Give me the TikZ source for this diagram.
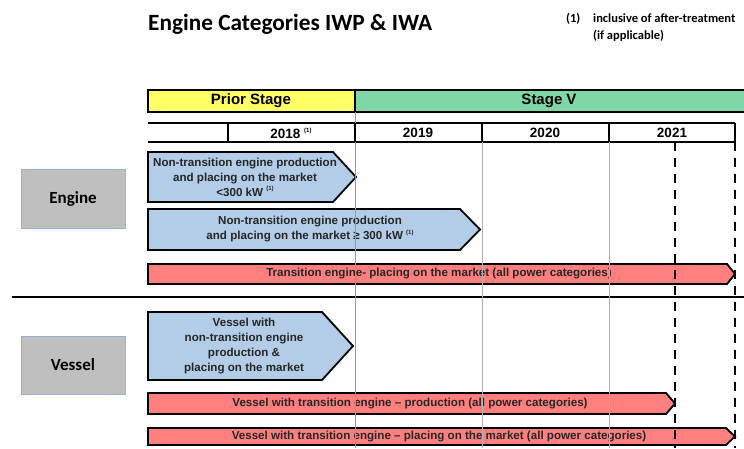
\documentclass[tikz,border=0pt]{standalone}
\usepackage{fontspec}
\setmainfont{Liberation Sans}
\newfontfamily\calfont{Carlito}
\definecolor{yel}{HTML}{FFFF66}
\definecolor{grn}{HTML}{7FD6A6}
\definecolor{blu}{HTML}{B3CDE8}
\definecolor{rd}{HTML}{FF7F7F}
\definecolor{boxgray}{HTML}{BFBFBF}
\definecolor{boxedge}{HTML}{95B3D7}
\newcommand{\sups}[1]{\raisebox{0.45em}{\fontsize{6}{6}\selectfont #1}}
\tikzset{
  blueshape/.style={fill=blu, draw=black, line width=1.8pt, line join=miter},
  redshape/.style={fill=rd, draw=black, line width=1.8pt, line join=miter},
  arrtext/.style={font=\bfseries\fontsize{11.6}{15}\selectfont, align=center, inner sep=0pt, text=black!85},
  yeartext/.style={font=\bfseries\fontsize{13.5}{14}\selectfont, inner sep=0pt},
  headtext/.style={font=\bfseries\fontsize{15}{15}\selectfont, inner sep=0pt},
  gridline/.style={draw=gray!60, line width=1pt},
  dashline/.style={draw=black, line width=2pt, dash pattern=on 9pt off 7pt},
  catbox/.style={fill=boxgray, draw=boxedge, line width=0.8pt},
  cattext/.style={font=\calfont\bfseries\fontsize{17}{18}\selectfont, inner sep=0pt},
  thickline/.style={draw=black, line width=1.8pt}
}
\begin{document}
\begin{tikzpicture}[x=1pt,y=-1pt]
\useasboundingbox (0,0) rectangle (744,448);
\clip (0,0) rectangle (744,448);
% title and footnote
\node[font=\calfont\bfseries\fontsize{23.3}{24}\selectfont, anchor=base west, inner sep=0pt] (title) at (148,30) {Engine Categories IWP \& IWA};
\node[font=\calfont\bfseries\fontsize{12.5}{17}\selectfont, anchor=base west, inner sep=0pt] (fn1) at (566,22) {(1)};
\node[font=\calfont\bfseries\fontsize{12.5}{17}\selectfont, anchor=base west, inner sep=0pt] (fn2) at (593,22) {inclusive of after-treatment};
\node[font=\calfont\bfseries\fontsize{12.5}{17}\selectfont, anchor=base west, inner sep=0pt] (fn3) at (593,39) {(if applicable)};
% header
\draw[fill=yel, thickline] (148,90) rectangle (355,112);
\draw[fill=grn, thickline] (355,90) rectangle (760,112);
\node[headtext] (prior) at (251,101) {Prior Stage};
\node[headtext] (stage) at (549,101) {Stage V};
% year row
\draw[thickline] (148,123) -- (735,123);
\draw[thickline] (148,142) -- (735,142);
\foreach \xx in {228,355,482,609,735} {\draw[thickline] (\xx,123) -- (\xx,142);}
\node[yeartext] (y18) at (291,133) {2018 \sups{(1)}};
\node[yeartext] (y19) at (418,133) {2019};
\node[yeartext] (y20) at (545,133) {2020};
\node[yeartext] (y21) at (672,133) {2021};
% category boxes
\draw[catbox] (21,169) rectangle (125,228);
\node[cattext] (engine) at (73,199) {Engine};
\draw[catbox] (21,336) rectangle (125,394);
\node[cattext] (vessel) at (73,365) {Vessel};
% separator
\draw[thickline] (12,297) -- (744,297);
% bars
\draw[blueshape] (148,152) -- (333,152) -- (356,177) -- (333,202) -- (148,202) -- cycle;
\node[arrtext] (a1) at (245,177) {Non-transition engine production\\and placing on the market\\{<}300 kW \sups{(1)}};
\draw[blueshape] (148,209) -- (460,209) -- (480,229.5) -- (460,250) -- (148,250) -- cycle;
\node[arrtext] (a2) at (310,229.5) {Non-transition engine production\\and placing on the market ≥ 300 kW \sups{(1)}};
\draw[redshape] (148,264) -- (727,264) -- (735,274) -- (727,284) -- (148,284) -- cycle;
\node[arrtext] (a3) at (439,274) {Transition engine- placing on the market (all power categories)};
\draw[blueshape] (148,312) -- (322,312) -- (353,346) -- (322,380) -- (148,380) -- cycle;
\node[arrtext] (a4) at (244,346) {Vessel with\\non-transition engine\\production \&\\placing on the market};
\draw[redshape] (148,393) -- (666,393) -- (675,403.5) -- (666,414) -- (148,414) -- cycle;
\node[arrtext] (a5) at (410,404) {Vessel with transition engine – production (all power categories)};
\draw[redshape] (148,428) -- (726,428) -- (735,436.5) -- (726,445) -- (148,445) -- cycle;
\node[arrtext] (a6) at (439,437) {Vessel with transition engine – placing on the market (all power categories)};
% grid lines on top
\draw[gridline, draw=gray!80] (355,112) -- (355,123);
\draw[gridline, draw=gray!80] (355,142) -- (355,448);
\draw[gridline] (482,142) -- (482,448);
\draw[gridline] (609,142) -- (609,448);
\draw[dashline] (675,142) -- (675,448);
\draw[dashline] (735,142) -- (735,448);
\end{tikzpicture}
\end{document}
